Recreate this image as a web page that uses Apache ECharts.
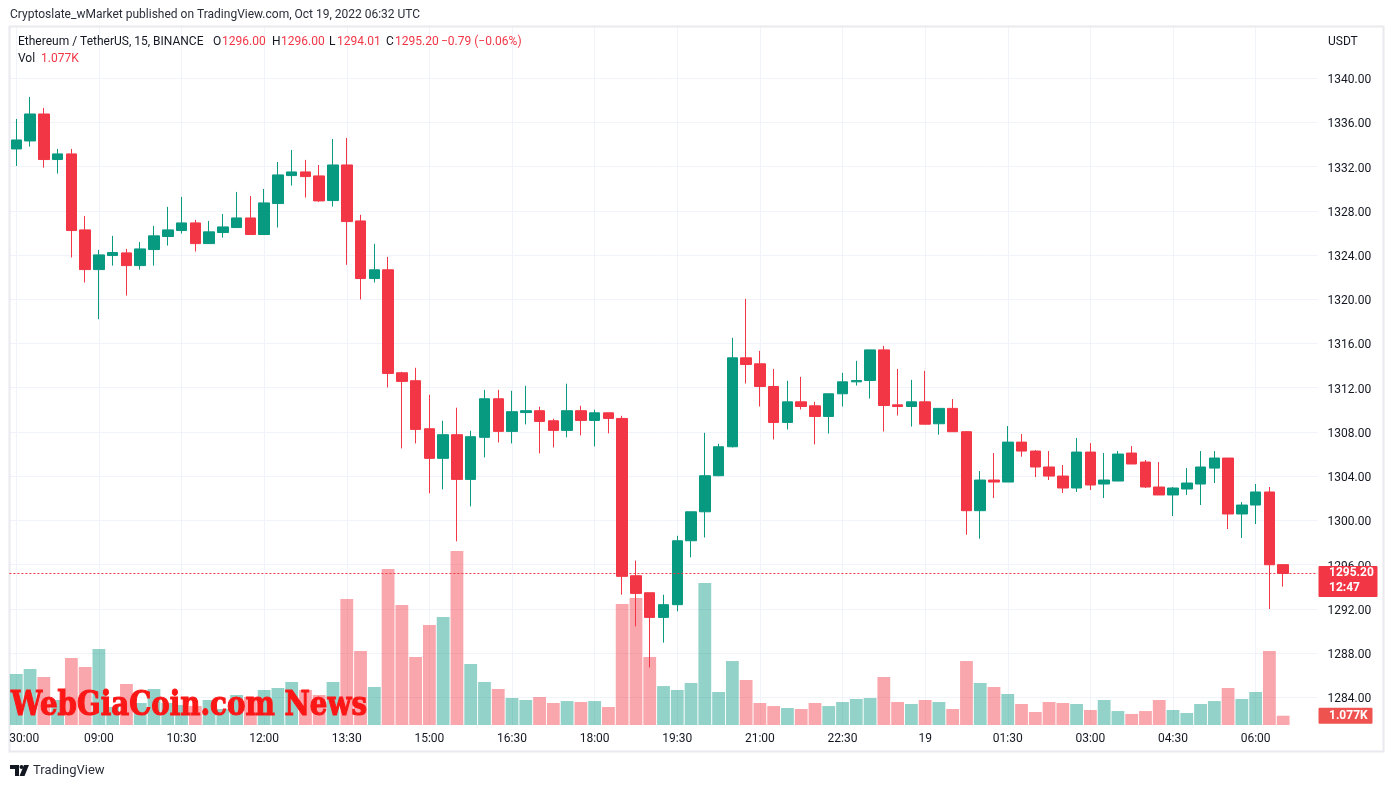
<!DOCTYPE html>
<html><head><meta charset="utf-8">
<script src="https://cdn.jsdelivr.net/npm/echarts@6/dist/echarts.min.js"></script>
<style>html,body{margin:0;padding:0;background:#fff}#c{width:1393px;height:788px}</style>
</head><body><div id="c"></div>
<script>
// ---- data ----
const times = ['07:30','07:45','08:00','08:15','08:30','08:45','09:00','09:15','09:30','09:45','10:00','10:15','10:30','10:45','11:00','11:15','11:30','11:45','12:00','12:15','12:30','12:45','13:00','13:15','13:30','13:45','14:00','14:15','14:30','14:45','15:00','15:15','15:30','15:45','16:00','16:15','16:30','16:45','17:00','17:15','17:30','17:45','18:00','18:15','18:30','18:45','19:00','19:15','19:30','19:45','20:00','20:15','20:30','20:45','21:00','21:15','21:30','21:45','22:00','22:15','22:30','22:45','23:00','23:15','23:30','23:45','00:00','00:15','00:30','00:45','01:00','01:15','01:30','01:45','02:00','02:15','02:30','02:45','03:00','03:15','03:30','03:45','04:00','04:15','04:30','04:45','05:00','05:15','05:30','05:45','06:00','06:15','06:30'];
const opens = [1333.59,1334.31,1336.75,1332.63,1333.14,1326.27,1322.68,1323.95,1324.19,1323.04,1324.49,1325.67,1326.21,1326.90,1325.03,1326.03,1326.48,1327.35,1325.85,1328.65,1331.18,1331.51,1331.15,1328.92,1332.14,1327.08,1321.87,1322.66,1313.35,1312.63,1308.29,1305.61,1307.75,1303.71,1307.51,1311.00,1308.05,1309.75,1309.92,1309.01,1308.14,1309.92,1309.04,1309.73,1309.22,1295.00,1293.46,1291.23,1292.38,1298.16,1300.78,1304.04,1306.66,1314.70,1314.16,1312.11,1308.86,1310.72,1310.36,1309.40,1311.45,1312.53,1312.65,1315.42,1310.45,1310.30,1310.72,1308.74,1310.13,1308.02,1300.88,1303.65,1303.47,1307.08,1306.27,1304.83,1304.01,1302.93,1306.18,1303.29,1303.56,1306.09,1305.28,1303.02,1302.30,1302.84,1303.29,1304.73,1305.64,1300.58,1301.39,1302.57,1296.00];
const highs = [1336.30,1338.29,1337.30,1333.59,1333.59,1327.53,1324.46,1325.73,1324.55,1325.18,1326.63,1328.35,1329.25,1327.17,1327.08,1327.71,1329.70,1329.34,1329.97,1332.41,1333.50,1332.60,1332.14,1334.49,1334.58,1327.63,1325.01,1323.83,1313.44,1313.80,1311.36,1309.01,1310.19,1308.11,1311.81,1311.81,1311.72,1312.17,1310.28,1309.19,1312.36,1310.37,1310.01,1309.73,1309.46,1296.36,1293.46,1293.28,1298.61,1300.78,1307.92,1306.93,1316.51,1320.03,1315.33,1313.70,1312.62,1312.98,1310.72,1311.45,1313.34,1314.43,1315.42,1315.78,1313.70,1312.71,1313.52,1310.13,1310.97,1308.08,1304.46,1306.09,1308.53,1307.81,1306.36,1306.27,1305.01,1307.45,1306.99,1306.09,1306.27,1306.72,1305.46,1305.28,1303.02,1304.73,1306.27,1306.27,1305.64,1301.66,1303.29,1303.02,1296.00];
const lows = [1332.05,1333.80,1331.90,1331.36,1323.77,1321.51,1318.20,1323.04,1320.33,1322.68,1323.04,1324.85,1325.94,1324.31,1325.03,1325.57,1326.48,1325.85,1325.85,1326.48,1330.28,1329.19,1328.80,1328.38,1323.11,1319.98,1321.51,1312.02,1306.51,1306.96,1302.45,1302.81,1298.11,1301.27,1305.70,1307.05,1306.96,1308.68,1306.06,1306.60,1307.51,1307.69,1306.69,1307.87,1293.28,1290.42,1286.70,1288.95,1291.78,1296.66,1298.46,1304.00,1306.60,1312.38,1310.30,1307.32,1308.22,1310.03,1306.87,1307.86,1310.30,1312.20,1311.02,1308.04,1309.49,1308.49,1308.67,1307.75,1308.02,1298.71,1298.35,1302.02,1303.47,1305.76,1303.92,1303.65,1302.48,1302.57,1302.75,1302.02,1303.56,1305.10,1302.93,1302.30,1300.40,1302.30,1301.39,1303.38,1299.22,1298.41,1299.67,1291.99,1294.01];
const closes = [1334.40,1336.75,1332.63,1333.14,1326.21,1322.68,1324.01,1324.22,1323.04,1324.55,1325.73,1326.27,1326.90,1325.03,1326.09,1326.54,1327.35,1325.85,1328.71,1331.24,1331.51,1331.09,1328.89,1332.14,1327.02,1321.87,1322.66,1313.29,1312.57,1308.23,1305.61,1307.75,1303.71,1307.57,1311.00,1308.05,1309.83,1309.92,1308.95,1308.14,1309.92,1309.04,1309.73,1309.22,1294.94,1293.40,1291.23,1292.38,1298.16,1300.78,1304.04,1306.66,1314.70,1314.10,1312.11,1308.86,1310.72,1310.30,1309.40,1311.45,1312.53,1312.65,1315.42,1310.39,1310.30,1310.72,1308.70,1310.13,1308.02,1300.88,1303.65,1303.47,1307.08,1306.27,1304.83,1304.01,1302.93,1306.18,1303.20,1303.65,1306.00,1305.10,1303.02,1302.30,1302.93,1303.38,1304.83,1305.64,1300.58,1301.39,1302.57,1295.99,1295.20];
// volume in thousands (K)
const volumes = [5.92,6.50,5.57,2.90,7.77,6.73,8.82,2.09,4.76,2.55,4.18,2.55,2.32,2.20,2.90,1.86,3.48,3.25,4.06,4.29,4.99,4.06,3.48,4.99,14.62,8.58,4.41,18.10,13.92,7.89,11.60,12.53,20.18,7.08,4.99,4.18,3.13,2.90,3.25,2.55,2.78,2.67,2.78,2.09,14.04,14.73,7.89,4.52,4.06,4.87,16.47,3.83,7.42,5.22,2.55,2.20,1.97,1.86,2.55,2.20,2.67,3.02,3.13,5.57,2.67,2.44,2.90,2.67,1.86,7.42,4.87,4.41,3.60,2.44,1.51,2.67,2.55,2.44,1.74,2.90,1.62,1.28,1.62,2.90,1.74,1.39,2.44,2.78,4.29,3.02,3.83,8.58,1.077];
const tickLabels = ['30:00','09:00','10:30','12:00','13:30','15:00','16:30','18:00','19:30','21:00','22:30','19','01:30','03:00','04:30','06:00'];
const priceMin = 1280, priceMax = 1344, priceStep = 4;
const countdown = '12:47';

// ---- style ----
const FONT = 'Roboto, "Noto Sans", sans-serif';
const GREEN = '#089981', RED = '#f23645';
const GREEN_V = 'rgba(8,153,129,0.44)', RED_V = 'rgba(242,54,69,0.44)';
const TXT = '#131722', GRID = '#f0f3fa';
const N = times.length;
const cats = times.concat(['', '']);   // empty space right of the last candle
const L = 9.4, W = 1308.2;

const candleData = opens.map((o, i) => [o, closes[i], lows[i], highs[i]]);
const volData = volumes.map((v, i) => ({ value: v, itemStyle: { color: closes[i] >= opens[i] ? GREEN_V : RED_V } }));
const lastClose = closes[N - 1], lastVol = volumes[N - 1];

const chart = echarts.init(document.getElementById('c'));
chart.setOption({
  animation: false,
  backgroundColor: '#ffffff',
  textStyle: { fontFamily: FONT },
  grid: [
    { left: L, width: W, top: 33.8, height: 707.8 },
    { left: L, width: W, top: 26, height: 699 }
  ],
  xAxis: [
    { type: 'category', gridIndex: 0, data: cats, show: true, axisLine: { show: false }, axisTick: { show: false }, axisLabel: { show: false }, splitLine: { show: false } },
    { type: 'category', gridIndex: 1, data: cats, axisLine: { show: false }, axisTick: { show: false },
      axisLabel: { interval: 0, margin: 8, color: TXT, fontSize: 12, fontFamily: FONT,
        formatter: (v, i) => (i % 6 === 0 && i / 6 < tickLabels.length) ? (i === 0 ? '{f|' + tickLabels[0] + '}' : tickLabels[i / 6]) : '',
        rich: { f: { padding: [0, 0, 0, 16], color: TXT, fontSize: 12, fontFamily: FONT } } },
      splitLine: { show: true, alignWithLabel: true, interval: (i) => i % 6 === 0 && i < N, lineStyle: { color: GRID, width: 1 } } }
  ],
  yAxis: [
    { type: 'value', gridIndex: 0, position: 'right', min: priceMin, max: priceMax, interval: priceStep, scale: true,
      axisLine: { show: false }, axisTick: { show: false },
      axisLabel: { formatter: v => '{p|' + v.toFixed(2) + '}', showMinLabel: false, showMaxLabel: false, margin: 10,
        rich: { p: { padding: [4, 0, 0, 0], color: TXT, fontSize: 12, fontFamily: FONT } } },
      splitLine: { show: true, showMinLine: false, showMaxLine: false, lineStyle: { color: GRID, width: 1 } } },
    { type: 'value', gridIndex: 1, min: 0, max: 81.1, show: false, splitLine: { show: false } }
  ],
  series: [
    { type: 'bar', xAxisIndex: 1, yAxisIndex: 1, data: volData, barWidth: 12.8, z: 1 },
    { type: 'candlestick', xAxisIndex: 0, yAxisIndex: 0, data: candleData, barWidth: 11, z: 3,
      itemStyle: { color: GREEN, color0: RED, borderColor: GREEN, borderColor0: RED, borderWidth: 1 } }
  ]
});

// ---- annotations placed through the axes ----
const py = chart.convertToPixel({ yAxisIndex: 0 }, lastClose);
const vy = chart.convertToPixel({ yAxisIndex: 1 }, lastVol);
const pyC = Math.round(py - 0.5) + 0.5;
const legendRow = (x, y, parts) => parts.map(p => ({ type: 'text', left: x + p[2], top: y - 5, style: { text: p[0], fill: p[1], font: '12px ' + FONT } }));
const lastO = opens[N - 1], lastH = highs[N - 1], lastL = lows[N - 1], prevC = closes[N - 2];
const chg = lastClose - prevC, pct = chg / prevC * 100;
const fmt = v => v.toFixed(2).replace('-', '\u2212');

// watermark width fit
const WM_FONT = 'bold 34px "DejaVu Serif", serif';
const ctx = document.createElement('canvas').getContext('2d');
ctx.font = WM_FONT;
const wmW = ctx.measureText('WebGiaCoin.com News').width;
const wmScale = 356 / wmW;

chart.setOption({
  graphic: [
    { type: 'rect', shape: { x: 9.5, y: 26.5, width: 1374, height: 725 }, style: { fill: 'none', stroke: '#e9e9ef', lineWidth: 2 }, z: 0, silent: true },
    { type: 'text', left: 10, top: 9, style: { text: 'Cryptoslate_wMarket published on TradingView.com, Oct 19, 2022 06:32 UTC', fill: '#2a2e39', font: '12px ' + FONT } },
    ...legendRow(18, 41, [
      ['Ethereum / TetherUS, 15, BINANCE', TXT, 0],
      ['O', TXT, 195], [lastO.toFixed(2), RED, 204],
      ['H', TXT, 254], [lastH.toFixed(2), RED, 263],
      ['L', TXT, 311], [lastL.toFixed(2), RED, 319],
      ['C', TXT, 368], [lastClose.toFixed(2), RED, 377],
      [fmt(chg) + ' (' + fmt(pct) + '%)', RED, 423]
    ]),
    ...legendRow(18, 58, [['Vol', TXT, 0], [(lastVol).toFixed(3) + 'K', RED, 23]]),
    { type: 'text', left: 1328, top: 36, style: { text: 'USDT', fill: TXT, font: '12px ' + FONT } },
    // last price dotted line
    { type: 'line', zlevel: 1, shape: { x1: L, y1: pyC, x2: L + W, y2: pyC }, style: { stroke: RED, lineWidth: 1, lineDash: [2, 2] }, silent: true },
    // last price tag
    { type: 'rect', zlevel: 2, shape: { x: 1318.5, y: py - 7.5, width: 59, height: 31, r: 1 }, style: { fill: RED } },
    { type: 'text', zlevel: 2, left: 1329, top: py - 6, style: { text: lastClose.toFixed(2), fill: '#fff', font: 'bold 12px ' + FONT } },
    { type: 'text', zlevel: 2, left: 1329, top: py + 9, style: { text: countdown, fill: '#fff', font: 'bold 12px ' + FONT } },
    // volume tag
    { type: 'rect', zlevel: 2, shape: { x: 1318.5, y: vy - 8, width: 54, height: 16, r: 1 }, style: { fill: '#ef5350' } },
    { type: 'text', zlevel: 2, left: 1329, top: vy - 6, style: { text: lastVol.toFixed(3) + 'K', fill: '#fff', font: 'bold 12px ' + FONT } },
    // watermark
    { type: 'text', zlevel: 1, x: 11, y: 689, scaleX: wmScale, style: { text: 'WebGiaCoin.com News', fill: '#fc1717', stroke: '#fc1717', lineWidth: 1.2, font: WM_FONT, textVerticalAlign: 'top' } },
    // TradingView logo
    { type: 'polygon', shape: { points: [[10, 765], [19, 765], [19, 776], [15, 776], [15, 769], [10, 769]] }, style: { fill: '#131722' } },
    { type: 'circle', shape: { cx: 21.5, cy: 767, r: 2 }, style: { fill: '#131722' } },
    { type: 'polygon', shape: { points: [[24, 765], [29, 765], [24.5, 776], [19.5, 776]] }, style: { fill: '#131722' } },
    { type: 'text', left: 33, top: 764, style: { text: 'TradingView', fill: '#2a2e39', font: '13px ' + FONT } }
  ]
});
</script></body></html>
